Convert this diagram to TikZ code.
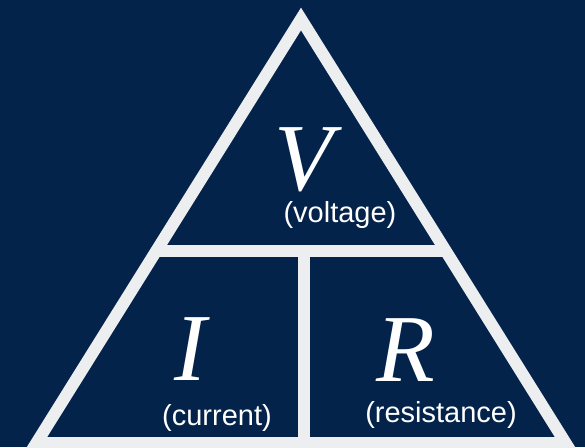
\documentclass[tikz,border=0pt]{standalone}
\usepackage{fontspec}
\setmainfont{Liberation Serif}
\setsansfont{Liberation Sans}
\usetikzlibrary{calc}
\definecolor{navybg}{HTML}{03234B}
\definecolor{edgecol}{HTML}{EDEEF0}
\tikzset{
  edgeline/.style={draw=edgecol, line width=12pt, line join=miter, miter limit=10},
  bigsym/.style={anchor=base, inner sep=0pt, text=white, font=\fontsize{96}{96}\selectfont\itshape},
  smalllbl/.style={anchor=base, inner sep=0pt, text=white, font=\fontsize{29}{29}\selectfont\sffamily},
}
\begin{document}
\begin{tikzpicture}[x=1pt,y=-1pt]
  \useasboundingbox (0,0) rectangle (585,447);
  \fill[navybg] (0,0) rectangle (585,447);
  \clip (0,0) rectangle (585,447);
  \coordinate (A) at (301,19);
  \coordinate (L) at (36.4,443);
  \coordinate (R) at (565.6,443);
  \coordinate (HL) at ($(A)!0.547!(L)$);
  \coordinate (HR) at ($(A)!0.547!(R)$);
  \coordinate (VT) at (304,251);
  \coordinate (VB) at (304,443);
  \draw[edgeline] (A) -- (L) -- (R) -- cycle;
  \draw[edgeline] (HL) -- (HR);
  \draw[edgeline] (VT) -- (VB);
  \node[bigsym] (v) at (304,190) {V};
  \node[smalllbl] (vl) at (340,222) {(voltage)};
  \node[bigsym] (i) at (190,380) {I};
  \node[smalllbl] (il) at (217,425) {(current)};
  \node[bigsym] (r) at (406,381) {R};
  \node[smalllbl] (rl) at (441,422) {(resistance)};
\end{tikzpicture}
\end{document}
